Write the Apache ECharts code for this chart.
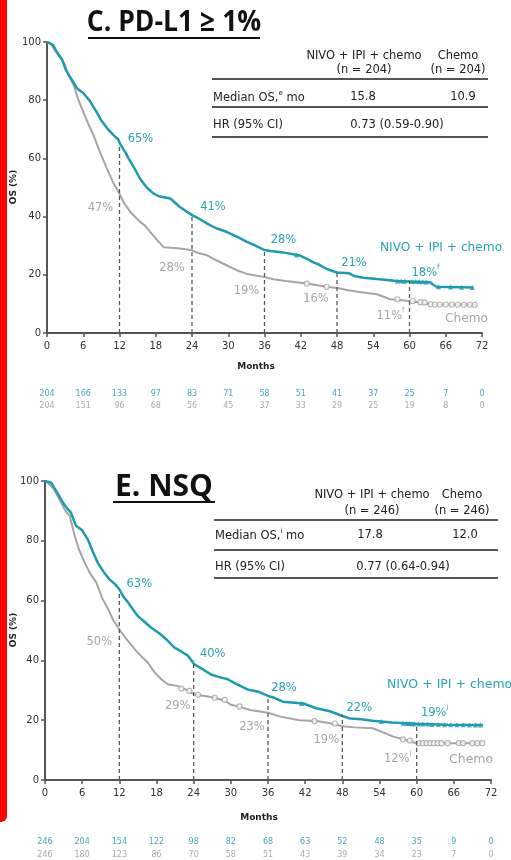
<!DOCTYPE html>
<html><head><meta charset="utf-8">
<script src="https://cdn.jsdelivr.net/npm/echarts@6/dist/echarts.min.js"></script>
<style>html,body{margin:0;padding:0;background:#fff}#c{width:511px;height:860px}</style>
</head><body><div id="c"></div>
<script>
// ---------------- DATA ----------------
const xTicks = [0, 6, 12, 18, 24, 30, 36, 42, 48, 54, 60, 66, 72];
const yTicks = [0, 20, 40, 60, 80, 100];

const topAtRiskNivo  = [204, 166, 133, 97, 83, 71, 58, 51, 41, 37, 25, 7, 0];
const topAtRiskChemo = [204, 151, 96, 68, 56, 45, 37, 33, 29, 25, 19, 8, 0];
const botAtRiskNivo  = [246, 204, 154, 122, 98, 82, 68, 63, 52, 48, 35, 9, 0];
const botAtRiskChemo = [246, 180, 123, 86, 70, 58, 51, 43, 39, 34, 23, 7, 0];

const landmarkMonths   = [12, 24, 36, 48, 60];
const topNivoLandmark  = [65, 41, 28, 21, 18];
const topChemoLandmark = [47, 28, 19, 16, 11];
const botNivoLandmark  = [63, 40, 28, 22, 19];
const botChemoLandmark = [50, 29, 23, 19, 12];
const topLandmarkSup = ['', '', '', '', 'f'];
const botLandmarkSup = ['', '', '', '', 'j'];

const topNivoCurve = [[0,100],[1,99],[1.5,97],[2.5,94],[3,91],[3.5,89],[4.4,86],[5,84],[6,82.5],[7,80],[8.2,76],[9,73],[9.9,70.5],[11,68],[11.8,66.5],[12.1,65],[13,62],[13.5,60],[14.5,56.5],[15.4,53],[16.5,50],[17.6,48],[18.5,47],[20.4,46.2],[22,43.3],[24,40.5],[25,39.5],[26.5,37.6],[28,36],[29.8,34.7],[31.5,33],[33.1,31.3],[34.5,30],[36,28.5],[37,28.2],[39,27.7],[41.9,26.6],[43,25.5],[44.1,24.3],[45,23.5],[46.3,22],[48,20.8],[50,20.5],[51,19.5],[52.4,19],[55,18.5],[57.9,17.9],[60,17.7],[63.4,17.4],[64,16.5],[64.5,15.9],[70.6,15.6]];
const topChemoCurve = [[0,100],[0.5,99.7],[1.2,97.5],[2.2,94.5],[3,92],[3.5,89],[4.4,85.3],[5.2,80],[6,76],[6.8,72],[7.7,68],[8.8,62],[9.9,56.6],[11,51.5],[12.1,47.4],[12.8,44.5],[13.8,41.6],[15.4,38.2],[16.2,37],[17.1,34.7],[18.2,32],[19.3,29.5],[22,29],[24,28.4],[25,27.5],[26.5,26.7],[28,25],[29.8,23.2],[31.5,21.5],[33.1,20.3],[36.1,19.2],[37.5,18.5],[39.5,17.9],[43,17],[46.3,15.9],[48,15.5],[49.8,14.7],[52,14],[54.6,13.3],[56.8,11.6],[60,11],[62,10.5],[63.4,9.9],[71,9.7]];
const topNivoCensor = [[41.3,26.8],[58,17.9],[58.6,17.9],[59.2,17.8],[60.4,17.7],[61,17.7],[61.6,17.6],[62.2,17.6],[62.8,17.5],[64.8,15.9],[66.8,15.8],[68.6,15.7],[70.4,15.6]];
const topChemoCensor = [[43,17],[46.3,15.9],[58,11.6],[60.5,11],[61.8,10.6],[62.5,10.5],[63.5,9.9],[64.2,9.8],[65,9.8],[66,9.8],[67,9.8],[68,9.7],[69,9.7],[70,9.7],[70.8,9.7]];

const botNivoCurve = [[0,100],[1,99.4],[2,96],[2.9,92.8],[3.5,91],[4.2,89.4],[5,85],[6,83.5],[6.9,80.5],[7.8,76],[8.5,72.7],[9.5,69.5],[10.4,67.1],[11.3,65.5],[12,63.8],[12.6,61.5],[13.4,59.4],[14.2,57],[15,54.8],[16,53],[17.1,51],[18.5,49],[19.6,47],[20.9,44.3],[22,43],[23.1,41.5],[24.1,38.7],[25.5,37],[26.8,35.3],[28,34.5],[29.5,33.7],[31,32],[32.7,30.3],[34.5,29.5],[36,28.1],[37,27.5],[38.4,26.2],[41.7,25.6],[43.8,24],[46,23],[48,21.4],[49.2,20.6],[51,20.3],[52.9,19.8],[56,19.2],[59.9,18.8],[65,18.5],[70.7,18.4]];
const botChemoCurve = [[0,100],[0.5,99.4],[1.5,97],[2.6,92.8],[3.3,90],[4,88.3],[4.8,81.6],[5.5,77],[6.4,72.7],[7.3,69],[8.3,66],[9.2,61],[10.2,57.1],[11,53.5],[12,50.4],[13.2,47],[14.5,43.7],[15.5,41.5],[16.6,39.2],[17.7,36],[18.8,33.6],[19.8,32],[21.5,31.4],[23,30],[24.1,28.6],[25.5,28.2],[27.4,27.5],[29,26.5],[30,25.2],[31.1,24.7],[33.1,23.4],[36,22.5],[38,21.2],[41.1,20],[43.8,19.7],[46,19],[48,18],[50,17.6],[52.9,17.3],[54.5,16],[56.2,14.5],[58.3,13.4],[59.9,12.3],[70.7,12.3]];
const botNivoCensor = [[41.4,25.6],[54.3,19.6],[57.8,19],[58.4,18.9],[58.8,18.9],[59.2,18.8],[59.6,18.8],[60.3,18.7],[61,18.7],[61.8,18.7],[62.5,18.6],[63.5,18.6],[64.5,18.5],[65.5,18.5],[66.5,18.5],[67.5,18.5],[68.5,18.4],[69.5,18.4],[70.3,18.4]];
const botChemoCensor = [[22,30.6],[23.3,29.8],[24.7,28.5],[27.4,27.5],[29,26.8],[31.4,24.6],[43.5,19.7],[46.8,18.9],[57.8,13.6],[58.9,13.2],[60.3,12.3],[61,12.3],[61.6,12.3],[62.2,12.3],[62.8,12.3],[63.4,12.3],[64,12.3],[65,12.3],[66.8,12.3],[67.5,12.3],[69,12.3],[69.8,12.3],[70.6,12.3]];

const topTitle = 'C. PD-L1 ≥ 1%';
const botTitle = 'E. NSQ';
const armNivo = 'NIVO + IPI + chemo';
const armChemo = 'Chemo';
const topN = ['(n = 204)', '(n = 204)'];
const botN = ['(n = 246)', '(n = 246)'];
const topMedian = ['15.8', '10.9'];
const botMedian = ['17.8', '12.0'];
const topMedianSup = 'e';
const botMedianSup = 'i';
const topHR = '0.73 (0.59-0.90)';
const botHR = '0.77 (0.64-0.94)';

// ---------------- STYLE ----------------
const BLUE = '#1f9bb0', GRAY = '#aaa3a3';
const BLUE_T = '#2aa3b8', GRAY_T = '#a9a6a6';
const AX = '#555';
const FONT = 'DejaVu Sans';

const chart = echarts.init(document.getElementById('c'), null, {renderer: 'canvas'});

function mainX(g) {
  return {type:'value', gridIndex:g, min:0, max:72, interval:6,
    axisLine:{lineStyle:{color:AX, width:2}},
    axisTick:{length:4, lineStyle:{color:AX, width:1.5}},
    axisLabel:{color:'#333', fontSize:10, fontFamily:FONT, margin:8},
    splitLine:{show:false}};
}
function riskX(g, arr, color, offset) {
  return {type:'value', gridIndex:g, min:0, max:72, interval:6, position:'bottom', offset:offset,
    axisLine:{show:false}, axisTick:{show:false}, splitLine:{show:false},
    axisLabel:{color:color, fontSize:8, fontFamily:FONT, margin:4,
      formatter: v => String(arr[xTicks.indexOf(Math.round(v))])}};
}
function mainY(g) {
  return {type:'value', gridIndex:g, min:0, max:100, interval:20,
    axisLine:{show:true, lineStyle:{color:AX, width:2}},
    axisTick:{show:true, length:4, lineStyle:{color:AX, width:1.5}},
    axisLabel:{color:'#333', fontSize:10, fontFamily:FONT, margin:6},
    splitLine:{show:false}};
}
function curve(data, color, xi, yi, w) {
  return {type:'line', data:data, xAxisIndex:xi, yAxisIndex:yi, showSymbol:false, symbol:'none',
    lineStyle:{color:color, width:w}, silent:true, animation:false, z:3};
}
function censor(data, color, xi, yi, sym) {
  return {type:'scatter', data:data, xAxisIndex:xi, yAxisIndex:yi, symbol:sym,
    symbolSize: 5,
    itemStyle: sym === 'triangle' ? {color:color} : {color:'#fff', borderColor:color, borderWidth:1.2},
    silent:true, animation:false, z:4};
}
function dashes(months, vals, xi, yi) {
  return months.map((m, i) => ({type:'line', data:[[m, 0], [m, vals[i]]], xAxisIndex:xi, yAxisIndex:yi,
    showSymbol:false, symbol:'none', lineStyle:{color:'#5a5a5a', width:1.3, type:[4,3]}, silent:true, animation:false, z:5}));
}

const option = {
  animation:false,
  backgroundColor:'#fff',
  grid:[
    {left:47, right:29, top:42, height:291},
    {left:45, right:20, top:481, height:299}
  ],
  xAxis:[
    mainX(0), riskX(0, topAtRiskNivo, '#4aa9bd', 53), riskX(0, topAtRiskChemo, '#ababab', 65),
    mainX(1), riskX(1, botAtRiskNivo, '#4aa9bd', 54), riskX(1, botAtRiskChemo, '#ababab', 67)
  ],
  yAxis:[mainY(0), mainY(1)],
  series:[
    curve(topChemoCurve, GRAY, 0, 0, 2),
    curve(topNivoCurve, BLUE, 0, 0, 2.5),
    censor(topChemoCensor, GRAY, 0, 0, 'circle'),
    censor(topNivoCensor, BLUE, 0, 0, 'triangle'),
    ...dashes(landmarkMonths, topNivoLandmark, 0, 0),
    curve(botChemoCurve, GRAY, 3, 1, 2),
    curve(botNivoCurve, BLUE, 3, 1, 2.5),
    censor(botChemoCensor, GRAY, 3, 1, 'circle'),
    censor(botNivoCensor, BLUE, 3, 1, 'triangle'),
    ...dashes(landmarkMonths, botNivoLandmark, 3, 1)
  ]
};
chart.setOption(option);

// ---------------- ANNOTATIONS ----------------
const G = [];
function txt(x, y, text, o) {
  o = o || {};
  G.push({type:'text', x:x, y:y, z:10, scaleX:o.scaleX || 1, silent:true,
    style:{text:text, fill:o.color || '#222',
      fontFamily:o.family || FONT, fontSize:o.size || 11.5, fontWeight:o.weight || 'normal',
      textAlign:o.align || 'left', textVerticalAlign:'middle', rich:o.rich}});
}
function hline(x1, x2, y, w, color) {
  G.push({type:'line', z:10, silent:true, shape:{x1:x1, y1:y, x2:x2, y2:y}, style:{stroke:color || '#444', lineWidth:w || 2}});
}
function supText(main, sup, color, size) {
  return {text: sup ? '{a|' + main + '}{s|' + sup + '}' : main,
    rich: {a:{fontSize:size, fontFamily:FONT, color:color, lineHeight:size + 4, verticalAlign:'bottom'},
           s:{fontSize:size * 0.6, fontFamily:FONT, color:color, lineHeight:size + 4, verticalAlign:'top'}}};
}

// red frame
G.push({type:'rect', z:0, silent:true, shape:{x:-12, y:-12, width:19, height:834, r:6}, style:{fill:'#ff0000'}});

// titles
txt(174, 23, topTitle, {size:29, weight:'bold', family:'Open Sans', align:'center', color:'#111', scaleX:0.915});
hline(88, 260, 38, 2, '#111');
txt(164, 487, botTitle, {size:30, weight:'bold', family:'Open Sans', align:'center', color:'#111'});
hline(113, 215, 502, 2, '#111');

// tables
function table(t) {
  txt(t.nivoX, t.y1, armNivo, {align:'center'});
  txt(t.nivoX, t.y2, t.n[0], {align:'center'});
  txt(t.chemoX, t.y1, armChemo, {align:'center'});
  txt(t.chemoX, t.y2, t.n[1], {align:'center'});
  hline(t.x1, t.x2, t.l1, 2, '#555');
  const r = {a:{fontSize:11.5, fontFamily:FONT, color:'#222', lineHeight:15, verticalAlign:'bottom'},
             s:{fontSize:7, fontFamily:FONT, color:'#222', lineHeight:15, verticalAlign:'top'}};
  txt(t.x1 + 1, t.r1, '{a|Median OS,}{s|' + t.sup + '}{a| mo}', {rich:r});
  txt(t.medX[0], t.r1, t.med[0], {align:'center'});
  txt(t.medX[1], t.r1, t.med[1], {align:'center'});
  hline(t.x1, t.x2, t.l2, 2, '#555');
  txt(t.x1 + 1, t.r2, 'HR (95% CI)');
  txt(t.hrX, t.r2, t.hr, {align:'center'});
  hline(t.x1, t.x2, t.l3, 2, '#555');
}
table({nivoX:364, chemoX:458, y1:56, y2:70, n:topN, x1:212, x2:488, l1:79, l2:107, l3:137,
  r1:97, r2:125, sup:topMedianSup, med:topMedian, medX:[363, 463], hr:topHR, hrX:397});
table({nivoX:372, chemoX:462, y1:495, y2:511, n:botN, x1:214, x2:498, l1:520, l2:550, l3:578,
  r1:535, r2:567, sup:botMedianSup, med:botMedian, medX:[370, 465], hr:botHR, hrX:403});

// axis titles
txt(256, 367, 'Months', {size:9, weight:'bold', align:'center', color:'#222'});
txt(259, 818, 'Months', {size:9, weight:'bold', align:'center', color:'#222'});
G.push({type:'text', x:14, y:187, rotation:Math.PI/2, z:10, silent:true,
  style:{text:'OS (%)', fontFamily:FONT, fontSize:9, fontWeight:'bold', fill:'#222', textAlign:'center', textVerticalAlign:'middle'}});
G.push({type:'text', x:14, y:630, rotation:Math.PI/2, z:10, silent:true,
  style:{text:'OS (%)', fontFamily:FONT, fontSize:9, fontWeight:'bold', fill:'#222', textAlign:'center', textVerticalAlign:'middle'}});

// landmark labels
const topNivoOff  = [[21,-5],[21,-7],[19,-12],[17,-9],[16,-9]];
const topChemoOff = [[-19,12],[-20,16],[-18,13],[-21,13],[-19,13]];
const botNivoOff  = [[20,-8],[19,-6],[16,-8],[17,-6],[18,-12]];
const botChemoOff = [[-20,12],[-16,13],[-16,16],[-16,17],[-19,13]];
function landmarkLabels(xi, yi, vals, offs, sups, color) {
  vals.forEach((v, i) => {
    const p = chart.convertToPixel({xAxisIndex:xi, yAxisIndex:yi}, [landmarkMonths[i], v]);
    const st = supText(v + '%', sups[i], color, 11.5);
    G.push({type:'text', x:p[0] + offs[i][0], y:p[1] + offs[i][1], z:10, silent:true,
      style:{text:st.text, rich:st.rich, fontFamily:FONT, fontSize:11.5, fill:color, textAlign:'center', textVerticalAlign:'middle'}});
  });
}
landmarkLabels(0, 0, topNivoLandmark, topNivoOff, topLandmarkSup, BLUE_T);
landmarkLabels(0, 0, topChemoLandmark, topChemoOff, topLandmarkSup, GRAY_T);
landmarkLabels(3, 1, botNivoLandmark, botNivoOff, botLandmarkSup, BLUE_T);
landmarkLabels(3, 1, botChemoLandmark, botChemoOff, botLandmarkSup, GRAY_T);

// arm labels
txt(380, 248, armNivo, {size:12.2, color:BLUE_T});
txt(445, 319, armChemo, {size:12.2, color:GRAY_T});
txt(387, 685, armNivo, {size:12.5, color:BLUE_T});
txt(449, 760, armChemo, {size:12.5, color:GRAY_T});

chart.setOption({graphic:G});
</script></body></html>
